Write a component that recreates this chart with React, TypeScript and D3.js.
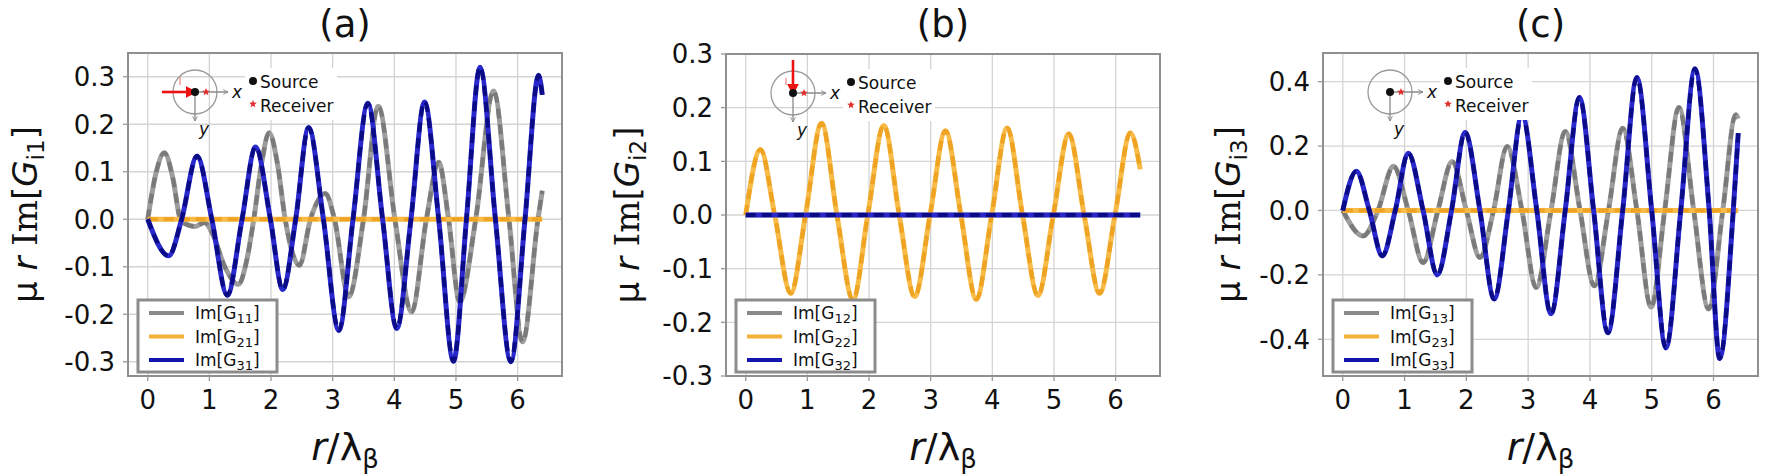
import React from "react";
import * as d3 from "d3";

// ---------- data ----------
const xTicks = [0, 1, 2, 3, 4, 5, 6];
const yTicksA = [-0.3, -0.2, -0.1, 0, 0.1, 0.2, 0.3];
const yTicksB = [-0.3, -0.2, -0.1, 0, 0.1, 0.2, 0.3];
const yTicksC = [-0.4, -0.2, 0, 0.2, 0.4];

const titles = ["(a)", "(b)", "(c)"];
const ylabelSubs = ["i1", "i2", "i3"];
const legendSubsA = ["11", "21", "31"];
const legendSubsB = ["12", "22", "32"];
const legendSubsC = ["13", "23", "33"];

// panel (a)
const G11: [number, number][] = [
  [0, 0], [0.13, 0.095], [0.27, 0.14], [0.41, 0.085], [0.53, 0], [0.65, -0.012], [0.77, -0.015],
  [0.92, -0.007], [1.05, -0.03], [1.25, -0.1], [1.47, -0.137], [1.6, -0.09], [1.72, 0], [1.85, 0.12],
  [1.97, 0.182], [2.1, 0.12], [2.23, 0], [2.46, -0.097], [2.64, 0], [2.88, 0.054], [3.03, 0],
  [3.26, -0.163], [3.5, 0], [3.74, 0.238], [4.01, 0], [4.28, -0.195], [4.52, 0], [4.72, 0.12],
  [4.88, 0], [5.06, -0.174], [5.32, 0], [5.61, 0.27], [5.86, 0], [6.08, -0.258], [6.33, 0], [6.4, 0.06],
];
const G21: [number, number][] = [[0, 0], [6.4, 0]];
const G31: [number, number][] = [
  [0, 0], [0.34, -0.077], [0.55, 0], [0.8, 0.133], [1.04, 0], [1.29, -0.16], [1.53, 0], [1.75, 0.152],
  [1.99, 0], [2.19, -0.148], [2.4, 0], [2.61, 0.193], [2.85, 0], [3.1, -0.234], [3.33, 0], [3.57, 0.244],
  [3.81, 0], [4.04, -0.23], [4.27, 0], [4.49, 0.247], [4.72, 0], [4.96, -0.299], [5.17, 0], [5.39, 0.32],
  [5.64, 0], [5.89, -0.3], [6.12, 0], [6.34, 0.303], [6.4, 0.262],
];

// panel (b)
const G12: [number, number][] = [[0, 0], [6.4, 0]];
const G22: [number, number][] = [
  [0, 0], [0.24, 0.122], [0.47, 0], [0.73, -0.146], [0.97, 0], [1.23, 0.171], [1.48, 0], [1.74, -0.158],
  [1.98, 0], [2.24, 0.167], [2.49, 0], [2.74, -0.152], [2.99, 0], [3.24, 0.157], [3.49, 0], [3.74, -0.157],
  [3.99, 0], [4.24, 0.162], [4.49, 0], [4.74, -0.15], [4.99, 0], [5.24, 0.151], [5.49, 0], [5.74, -0.146],
  [5.99, 0], [6.24, 0.153], [6.4, 0.085],
];
const G32: [number, number][] = [[0, 0], [6.4, 0]];

// panel (c)
const G13: [number, number][] = [
  [0, 0], [0.33, -0.079], [0.57, 0], [0.82, 0.137], [1.06, 0], [1.3, -0.162], [1.54, 0], [1.77, 0.152],
  [2.0, 0], [2.22, -0.146], [2.44, 0], [2.66, 0.199], [2.9, 0], [3.13, -0.239], [3.37, 0], [3.6, 0.245],
  [3.84, 0], [4.07, -0.234], [4.3, 0], [4.53, 0.255], [4.76, 0], [4.99, -0.3], [5.21, 0], [5.44, 0.32],
  [5.68, 0], [5.92, -0.306], [6.15, 0], [6.36, 0.297], [6.4, 0.285],
];
const G23: [number, number][] = [[0, 0], [6.4, 0]];
const G33: [number, number][] = [
  [0, 0], [0.22, 0.122], [0.43, 0], [0.64, -0.141], [0.85, 0], [1.06, 0.178], [1.3, 0], [1.53, -0.2],
  [1.76, 0], [1.98, 0.242], [2.22, 0], [2.45, -0.275], [2.68, 0], [2.9, 0.297], [3.14, 0], [3.37, -0.321],
  [3.6, 0], [3.83, 0.351], [4.06, 0], [4.29, -0.38], [4.53, 0], [4.76, 0.413], [5.0, 0], [5.23, -0.427],
  [5.47, 0], [5.7, 0.44], [5.93, 0], [6.1, -0.46], [6.32, 0], [6.4, 0.24],
];

// ---------- styling / layout ----------
const FONT = "'DejaVu Sans', Verdana, sans-serif";
const SERIF = "'DejaVu Serif', serif";
const COLORS = [
  { solid: "#9d9d9d", dash: "#7a7a7a", legend: "#8a8a8a" },
  { solid: "#f8bb48", dash: "#eea323", legend: "#f4b13a" },
  { solid: "#2828cc", dash: "#0b0b86", legend: "#1414b0" },
];

const panels = [
  { x0: 128, x1: 562, y0: 53, y1: 376, yDomain: [-0.33, 0.35], yTicks: yTicksA, series: [G11, G21, G31], legend: legendSubsA, arrow: "x", ylabX: 25 },
  { x0: 726, x1: 1160, y0: 54, y1: 376, yDomain: [-0.3, 0.3], yTicks: yTicksB, series: [G12, G22, G32], legend: legendSubsB, arrow: "y", ylabX: 627 },
  { x0: 1323, x1: 1758, y0: 53, y1: 376, yDomain: [-0.514, 0.489], yTicks: yTicksC, series: [G13, G23, G33], legend: legendSubsC, arrow: null, ylabX: 1228 },
];

function Star({ cx, cy, r, fill }: { cx: number; cy: number; r: number; fill: string }) {
  const pts: string[] = [];
  for (let i = 0; i < 10; i++) {
    const a = -Math.PI / 2 + (i * Math.PI) / 5;
    const rr = i % 2 === 0 ? r : r * 0.45;
    pts.push(`${cx + rr * Math.cos(a)},${cy + rr * Math.sin(a)}`);
  }
  return <polygon points={pts.join(" ")} fill={fill} />;
}

function Panel({ p, idx }: { p: any; idx: number }) {
  const x = d3.scaleLinear().domain([-0.32, 6.72]).range([p.x0, p.x1]);
  const y = d3.scaleLinear().domain(p.yDomain).range([p.y1, p.y0]);
  const line = d3
    .line<[number, number]>()
    .x((d) => x(d[0]))
    .y((d) => y(d[1]))
    .curve(d3.curveMonotoneX);
  const clipId = `clip${idx}`;
  const cx = p.x0 + 67;
  const cy = p.y0 + 39;
  const lx = p.x0 + 10;
  const midX = (p.x0 + p.x1) / 2;
  const fmt = (v: number) => (Math.abs(v) < 1e-9 ? "0.0" : v.toFixed(1));
  return (
    <g>
      <defs>
        <clipPath id={clipId}>
          <rect x={p.x0} y={p.y0} width={p.x1 - p.x0} height={p.y1 - p.y0} />
        </clipPath>
      </defs>
      <rect x={p.x0} y={p.y0} width={p.x1 - p.x0} height={p.y1 - p.y0} fill="#fff" />
      {/* grid */}
      {xTicks.map((t) => (
        <line key={"gx" + t} x1={x(t)} x2={x(t)} y1={p.y0} y2={p.y1} stroke="#d4d4d4" strokeWidth={1.3} />
      ))}
      {p.yTicks.map((t: number) => (
        <line key={"gy" + t} x1={p.x0} x2={p.x1} y1={y(t)} y2={y(t)} stroke="#d4d4d4" strokeWidth={1.3} />
      ))}
      {/* curves */}
      <g clipPath={`url(#${clipId})`}>
        {p.series.map((s: [number, number][], i: number) => (
          <g key={"s" + i}>
            <path d={line(s) || ""} fill="none" stroke={COLORS[i].solid} strokeWidth={5} strokeLinejoin="round" />
            <path d={line(s) || ""} fill="none" stroke={COLORS[i].dash} strokeWidth={4.2} strokeDasharray="10 6" />
          </g>
        ))}
      </g>
      {/* inset diagram */}
      <circle cx={cx} cy={cy} r={22} fill="none" stroke="#9a9a9a" strokeWidth={1.3} />
      <line x1={cx} y1={cy} x2={cx + 33} y2={cy} stroke="#8a8a8a" strokeWidth={1.3} markerEnd="url(#grayArrow)" />
      <line x1={cx} y1={cy} x2={cx} y2={cy + 29} stroke="#8a8a8a" strokeWidth={1.3} markerEnd="url(#grayArrow)" />
      <text x={cx + 37} y={cy + 6} fontFamily={FONT} fontStyle="italic" fontSize={17} fill="#111">x</text>
      <text x={cx + 4} y={cy + 43} fontFamily={FONT} fontStyle="italic" fontSize={17} fill="#111">y</text>
      {p.arrow === "x" && (
        <g>
          <line x1={cx - 15} y1={cy - 15} x2={cx - 15} y2={cy - 7} stroke="#f08080" strokeWidth={1.2} />
          <line x1={cx - 33} y1={cy} x2={cx - 7} y2={cy} stroke="#ee1111" strokeWidth={2.6} markerEnd="url(#redArrow)" />
        </g>
      )}
      {p.arrow === "y" && (
        <g>
          <line x1={cx - 7} y1={cy - 15} x2={cx - 7} y2={cy - 8} stroke="#f08080" strokeWidth={1.2} />
          <line x1={cx} y1={cy - 33} x2={cx} y2={cy - 7} stroke="#ee1111" strokeWidth={2.6} markerEnd="url(#redArrow)" />
        </g>
      )}
      <circle cx={cx} cy={cy} r={4} fill="#111" />
      <Star cx={cx + 11} cy={cy} r={4} fill="#e03030" />
      <rect x={p.x0 + 117} y={p.y0 + 15} width={92} height={52} fill="#fff" />
      <circle cx={p.x0 + 125} cy={p.y0 + 28} r={4} fill="#111" />
      <text x={p.x0 + 132} y={p.y0 + 35} fontFamily={FONT} fontSize={17} fill="#111">Source</text>
      <Star cx={p.x0 + 125} cy={p.y0 + 51} r={4} fill="#e03030" />
      <text x={p.x0 + 132} y={p.y0 + 59} fontFamily={FONT} fontSize={17} fill="#111">Receiver</text>
      {/* legend */}
      <rect x={lx} y={300} width={139} height={72} fill="#fff" stroke="#8c8c8c" strokeWidth={3} />
      {p.legend.map((sub: string, i: number) => {
        const ry = 313 + i * 23.5;
        return (
          <g key={"l" + i}>
            <line x1={lx + 11} x2={lx + 46} y1={ry} y2={ry} stroke={COLORS[i].legend} strokeWidth={4} />
            <text x={lx + 57} y={ry + 6} fontFamily={FONT} fontSize={17} fill="#111">
              Im[G<tspan fontSize={13} dy={4}>{sub}</tspan><tspan dy={-4}>]</tspan>
            </text>
          </g>
        );
      })}
      {/* frame */}
      <rect x={p.x0} y={p.y0} width={p.x1 - p.x0} height={p.y1 - p.y0} fill="none" stroke="#8f8f8f" strokeWidth={2} />
      {/* ticks */}
      {xTicks.map((t) => (
        <g key={"tx" + t}>
          <line x1={x(t)} x2={x(t)} y1={p.y1} y2={p.y1 + 5} stroke="#999" strokeWidth={1.3} />
          <text x={x(t)} y={409} textAnchor="middle" fontFamily={FONT} fontSize={26} fill="#111">{t}</text>
        </g>
      ))}
      {p.yTicks.map((t: number) => (
        <g key={"ty" + t}>
          <line x1={p.x0 - 5} x2={p.x0} y1={y(t)} y2={y(t)} stroke="#999" strokeWidth={1.3} />
          <text x={p.x0 - 13} y={y(t)} dy="0.36em" textAnchor="end" fontFamily={FONT} fontSize={26} fill="#111">{fmt(t)}</text>
        </g>
      ))}
      {/* titles and axis labels */}
      <text x={midX} y={37} textAnchor="middle" fontFamily={FONT} fontSize={37} fill="#111">{titles[idx]}</text>
      <text x={midX} y={460} textAnchor="middle" fontFamily={FONT} fontSize={38} fill="#111">
        <tspan fontStyle="italic">r</tspan>/λ<tspan fontSize={26} dy={8}>β</tspan>
      </text>
      <text transform={`translate(${p.ylabX},${(p.y0 + p.y1) / 2}) rotate(-90)`} textAnchor="middle" dy="0.35em" fontFamily={FONT} fontSize={34} fill="#111">
        μ <tspan fontStyle="italic">r</tspan> <tspan fontFamily={SERIF}>Im</tspan>[<tspan fontStyle="italic">G</tspan><tspan fontSize={23} dy={7}>{ylabelSubs[idx]}</tspan><tspan dy={-7}>]</tspan>
      </text>
    </g>
  );
}

export default function App() {
  return (
    <svg width={1770} height={475} style={{ position: "absolute", left: 0, top: 0, background: "#fff" }}>
      <defs>
        <marker id="grayArrow" viewBox="0 0 10 10" refX="9" refY="5" markerWidth="6" markerHeight="6" markerUnits="userSpaceOnUse" orient="auto">
          <path d="M1,1 L9,5 L1,9" fill="none" stroke="#8a8a8a" strokeWidth={1.5} />
        </marker>
        <marker id="redArrow" viewBox="0 0 10 10" refX="2" refY="5" markerWidth="12" markerHeight="12" markerUnits="userSpaceOnUse" orient="auto">
          <path d="M0,0 L10,5 L0,10 Z" fill="#ee1111" />
        </marker>
      </defs>
      <rect x={0} y={0} width={1770} height={475} fill="#fff" />
      {panels.map((p, i) => (
        <Panel key={i} p={p} idx={i} />
      ))}
    </svg>
  );
}
